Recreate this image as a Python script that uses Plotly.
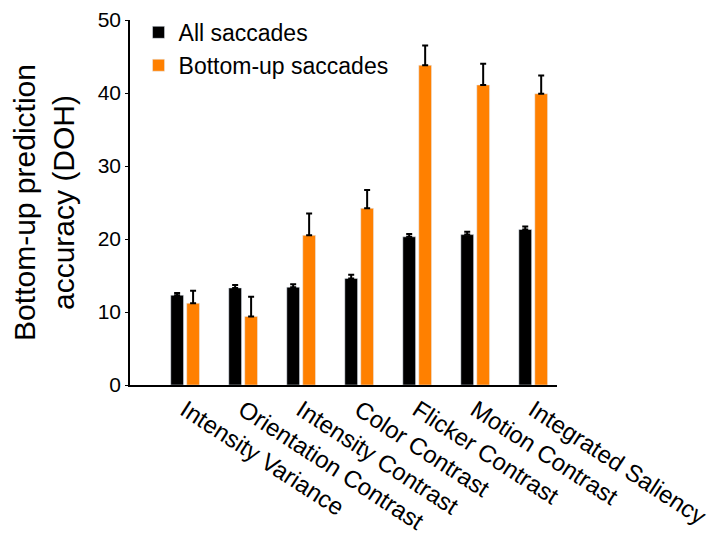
import plotly.graph_objects as go

categories = ["Intensity Variance", "Orientation Contrast", "Intensity Contrast",
              "Color Contrast", "Flicker Contrast", "Motion Contrast", "Integrated Saliency"]
all_sacc = [12.3, 13.3, 13.4, 14.6, 20.3, 20.6, 21.3]
all_err = [0.3, 0.4, 0.4, 0.5, 0.4, 0.4, 0.4]
bu_sacc = [11.2, 9.4, 20.5, 24.2, 43.8, 41.1, 39.9]
bu_err = [1.7, 2.7, 3.0, 2.5, 2.7, 2.9, 2.5]
y_ticks = [0, 10, 20, 30, 40, 50]

font = "Liberation Sans, Arial, sans-serif"

fig = go.Figure()
fig.add_trace(go.Bar(
    x=categories, y=all_sacc, name="All saccades", marker_color="black",
    error_y=dict(type="data", array=all_err, arrayminus=[0]*len(all_err), symmetric=False,
                 color="black", thickness=2, width=3)))
fig.add_trace(go.Bar(
    x=categories, y=bu_sacc, name="Bottom-up saccades", marker_color="#FF8000",
    error_y=dict(type="data", array=bu_err, arrayminus=[0]*len(bu_err), symmetric=False,
                 color="black", thickness=2, width=3)))

fig.update_layout(
    width=716, height=554,
    margin=dict(l=122, r=167, t=12, b=177, autoexpand=False),
    paper_bgcolor="white", plot_bgcolor="white",
    font=dict(family=font, color="black", size=18),
    barmode="group", bargap=0.45, bargroupgap=0.2,
    showlegend=True,
    legend=dict(x=0.02, y=1.025, xanchor="left", yanchor="top", bgcolor="rgba(0,0,0,0)",
                font=dict(size=23, family=font), itemwidth=30, tracegroupgap=0),
)
fig.update_xaxes(
    range=[-0.95, 6.41], tickangle=33, showline=True, linecolor="black", linewidth=1.5,
    ticks="", tickfont=dict(size=24, family=font), showgrid=False)
fig.update_yaxes(
    range=[0, 50], tickvals=y_ticks, showline=True, linecolor="black", linewidth=1.5,
    ticks="outside", ticklen=3, tickcolor="black", tickfont=dict(size=21, family=font),
    showgrid=False, zeroline=False,
    title=dict(text="Bottom-up prediction<br>accuracy (DOH)", font=dict(size=30, family=font), standoff=37))

fig.write_html("out.html")
